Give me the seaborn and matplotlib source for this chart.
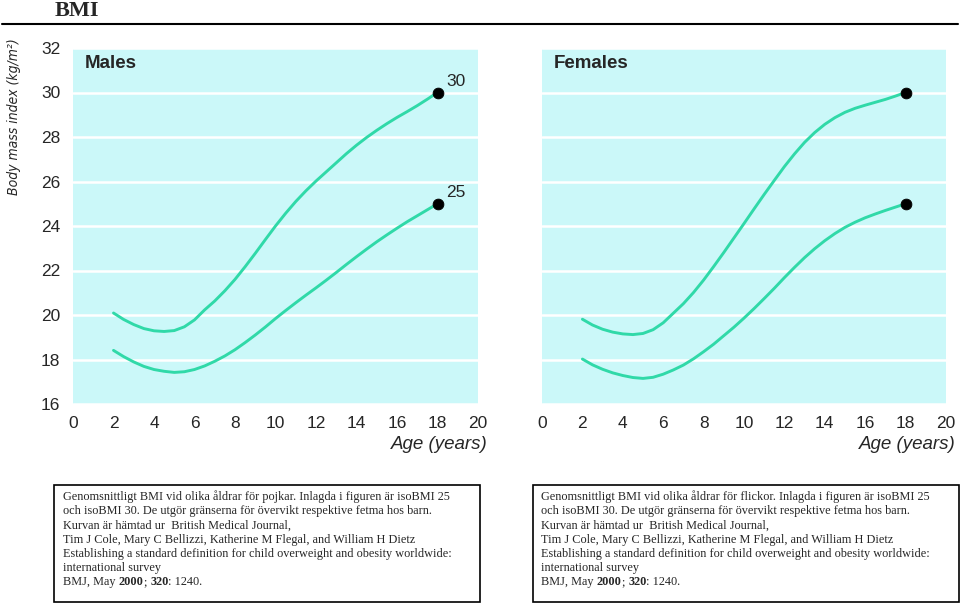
import numpy as np
import pandas as pd
import matplotlib
matplotlib.use("Agg")
import matplotlib.pyplot as plt
from matplotlib.patches import Rectangle
from matplotlib.lines import Line2D
from matplotlib.text import Annotation
import seaborn as sns

# iso-BMI 25 / 30 curves (Cole et al. 2000), half-year steps
ages = [2.0, 2.5, 3.0, 3.5, 4.0, 4.5, 5.0, 5.5, 6.0, 6.5, 7.0, 7.5, 8.0, 8.5, 9.0,
        9.5, 10.0, 10.5, 11.0, 11.5, 12.0, 12.5, 13.0, 13.5, 14.0, 14.5, 15.0,
        15.5, 16.0, 16.5, 17.0, 17.5, 18.0]
male_25 = [18.41, 18.13, 17.89, 17.69, 17.55, 17.47, 17.42, 17.45, 17.55, 17.71,
           17.92, 18.16, 18.44, 18.76, 19.10, 19.46, 19.84, 20.20, 20.55, 20.89,
           21.22, 21.56, 21.91, 22.27, 22.62, 22.96, 23.29, 23.60, 23.90, 24.19,
           24.46, 24.73, 25.00]
male_30 = [20.09, 19.80, 19.57, 19.39, 19.29, 19.26, 19.30, 19.47, 19.78, 20.23,
           20.63, 21.09, 21.60, 22.17, 22.77, 23.39, 24.00, 24.57, 25.10, 25.58,
           26.02, 26.43, 26.84, 27.25, 27.63, 27.98, 28.30, 28.60, 28.88, 29.14,
           29.41, 29.70, 30.00]
female_25 = [18.02, 17.76, 17.56, 17.40, 17.28, 17.19, 17.15, 17.20, 17.34, 17.53,
             17.75, 18.03, 18.35, 18.69, 19.07, 19.45, 19.86, 20.29, 20.74, 21.20,
             21.68, 22.14, 22.58, 22.98, 23.34, 23.66, 23.94, 24.17, 24.37, 24.54,
             24.70, 24.85, 25.00]
female_30 = [19.81, 19.55, 19.36, 19.23, 19.15, 19.12, 19.17, 19.34, 19.65, 20.08,
             20.51, 21.01, 21.57, 22.18, 22.81, 23.46, 24.11, 24.77, 25.42, 26.05,
             26.67, 27.24, 27.76, 28.20, 28.57, 28.87, 29.11, 29.29, 29.43, 29.56,
             29.69, 29.84, 30.00]

x_ticks = [0, 2, 4, 6, 8, 10, 12, 14, 16, 18, 20]
y_ticks = [16, 18, 20, 22, 24, 26, 28, 30, 32]

male_caption = [
    "Genomsnittligt BMI vid olika åldrar för pojkar. Inlagda i figuren är isoBMI 25",
    "och isoBMI 30. De utgör gränserna för övervikt respektive fetma hos barn.",
    "Kurvan är hämtad ur  British Medical Journal,",
    "Tim J Cole, Mary C Bellizzi, Katherine M Flegal, and William H Dietz",
    "Establishing a standard definition for child overweight and obesity worldwide:",
    "international survey",
]
female_caption = [
    "Genomsnittligt BMI vid olika åldrar för flickor. Inlagda i figuren är isoBMI 25",
] + male_caption[1:]
# last line: (text, bold?)
ref_line = [("BMJ, May ", False), ("2000", True), ("; ", False), ("320", True), (": 1240.", False)]

sns.set_style("white")
plt.rcParams['font.family'] = ['Liberation Sans', 'DejaVu Sans']

bg = "#cbf8f9"
line_color = "#30d9a8"

fig = plt.figure(figsize=(9.6, 6.03), dpi=100)


def long_df(c25, c30):
    n = len(ages)
    return pd.DataFrame({"age": ages + ages, "bmi": c25 + c30,
                         "cutoff": ["25"] * n + ["30"] * n})


def panel(rect, df, title, show_y, end_labels):
    ax = fig.add_axes(rect)
    ax.set_facecolor(bg)
    sns.lineplot(data=df, x="age", y="bmi", hue="cutoff", palette=[line_color] * 2,
                 linewidth=2.1, legend=False, ax=ax, estimator=None)
    end = df[df["age"] == df["age"].max()]
    sns.scatterplot(data=end, x="age", y="bmi", color="black", edgecolor="black",
                    s=60, ax=ax, legend=False, zorder=5)
    if end_labels:
        for _, r in end.iterrows():
            ax.text(r["age"] + 0.45, r["bmi"] + 0.5, r["cutoff"], fontsize=12.5,
                    va="center", ha="left")
    ax.set_xlim(0, 20)
    ax.set_ylim(16, 32)
    ax.set_xticks(x_ticks)
    ax.set_yticks(y_ticks)
    ax.yaxis.grid(True, color="white", linewidth=1.8)
    ax.xaxis.grid(False)
    ax.set_axisbelow(True)
    for s in ax.spines.values():
        s.set_visible(False)
    ax.tick_params(axis="x", direction="in", length=4, width=1.5, color="white",
                   pad=9, labelsize=12.5)
    ax.tick_params(axis="y", length=0, pad=9, labelsize=12.5)
    if not show_y:
        ax.set_yticklabels([])
    ax.set_xlabel("")
    ax.set_ylabel("")
    ax.text(0.6, 31.3, title, fontsize=13.5, fontweight="bold", va="center")
    ax.text(1.025, -0.113, "Age (years)", transform=ax.transAxes, ha="right",
            va="center", fontsize=13.5, style="italic")
    return ax


panel([73 / 960, 1 - 404 / 603, 405 / 960, 356 / 603], long_df(male_25, male_30),
      "Males", True, True)
panel([542 / 960, 1 - 404 / 603, 404 / 960, 356 / 603], long_df(female_25, female_30),
      "Females", False, False)

fig.text(14 / 960, 1 - 117 / 603, "Body mass index (kg/m²)", rotation=90,
         style="italic", family=["Liberation Sans Narrow", "DejaVu Sans"],
         fontstretch="condensed", fontsize=10, ha="center", va="center")

# header
fig.text(55 / 960, 1 - 11 / 603, "BMI", family="Liberation Serif", fontweight="bold",
         fontsize=16, va="center", ha="left")
fig.add_artist(Line2D([0.002, 0.998], [1 - 24 / 603] * 2, color="black", lw=1.5))

# caption boxes
serif = "Liberation Serif"
fs = 8.8
for bx, tx, lines in [(54, 63, male_caption), (533, 541, female_caption)]:
    fig.add_artist(Rectangle((bx / 960, 1 / 603), 426 / 960, 117 / 603,
                             transform=fig.transFigure, fill=False,
                             edgecolor="black", lw=1.2))
    y0 = 497
    for i, ln in enumerate(lines):
        fig.text(tx / 960, 1 - (y0 + i * 14.2) / 603, ln, family=serif,
                 fontsize=fs, va="center", ha="left")
    prev = fig.text(tx / 960, 1 - (y0 + 6 * 14.2) / 603, ref_line[0][0], family=serif,
                    fontsize=fs, va="center", ha="left")
    for txt, bold in ref_line[1:]:
        ann = Annotation(txt, xy=(1, 0), xycoords=prev, va="bottom", ha="left",
                         family=serif, fontsize=fs,
                         fontweight="bold" if bold else "normal")
        fig.add_artist(ann)
        prev = ann

fig.savefig("out.png", dpi=100, facecolor="white")
